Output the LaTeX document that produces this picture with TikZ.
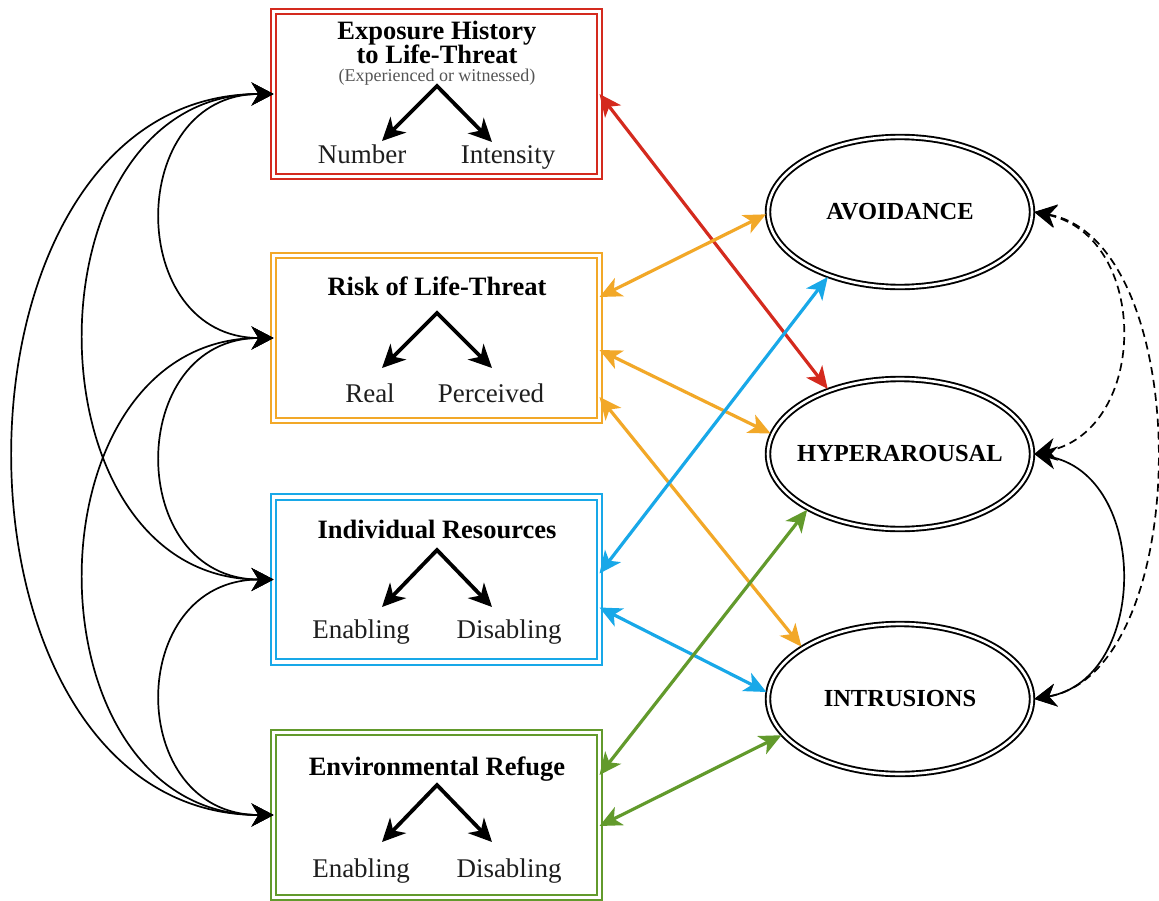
\documentclass[tikz,border=0pt]{standalone}
\usepackage{fontspec}
\setmainfont{Liberation Serif}
\usetikzlibrary{arrows.meta,shapes.geometric}
\definecolor{cred}{RGB}{212,42,30}
\definecolor{corange}{RGB}{242,168,40}
\definecolor{cblue}{RGB}{24,168,232}
\definecolor{cgreen}{RGB}{98,154,44}
\definecolor{subgray}{RGB}{85,85,85}
\definecolor{lblgray}{RGB}{30,30,30}
\begin{document}
\begin{tikzpicture}[x=1bp,y=-1bp,
  factor/.style={draw=#1, double=white, double distance=3.6bp, line width=1.8bp,
    minimum width=326bp, minimum height=165bp, outer sep=0pt, inner sep=0pt},
  latent/.style={ellipse, draw=black, double=white, double distance=2.6bp, line width=1.9bp,
    minimum width=264bp, minimum height=150bp, outer sep=2.2bp, inner sep=0pt,
    font=\fontsize{24.5bp}{28bp}\selectfont\bfseries},
  titletext/.style={anchor=base, inner sep=0pt, font=\fontsize{26.5bp}{30bp}\selectfont\bfseries},
  subtext/.style={anchor=base, inner sep=0pt, text=subgray, font=\fontsize{18bp}{20bp}\selectfont},
  lbl/.style={anchor=base, inner sep=0pt, text=lblgray, font=\fontsize{27bp}{30bp}\selectfont},
  varrow/.style={line width=3.8bp, miter limit=20,
    {Stealth[length=23bp,width=22bp,inset=7bp]}-{Stealth[length=23bp,width=22bp,inset=7bp]}},
  corr/.style={line width=1.7bp,
    {Stealth[length=22bp,width=23bp,inset=7bp]}-{Stealth[length=22bp,width=23bp,inset=7bp]}},
  dashcorr/.style={corr, dash pattern=on 8bp off 5bp},
  link/.style={line width=3.2bp, draw=#1,
    {Stealth[length=22bp,width=20bp,inset=6bp]}-{Stealth[length=22bp,width=20bp,inset=6bp]}}
]
\useasboundingbox (0,0) rectangle (1159,901);
\fill[white] (0,0) rectangle (1159,901);

% factor boxes
\node[factor=cred] (exp) at (436.5,94) {};
\node[factor=corange] (risk) at (436.5,338) {};
\node[factor=cblue] (ind) at (436.5,579.5) {};
\node[factor=cgreen] (env) at (436.5,815) {};

% texts of the boxes
\node[titletext] (expT1) at (437,39) {Exposure History};
\node[titletext] (expT2) at (437,63) {to Life-Threat};
\node[subtext] (expS) at (437,81) {(Experienced or witnessed)};
\node[lbl] (expN) at (362,163) {Number};
\node[lbl] (expI) at (508,163) {Intensity};

\node[titletext] (riskT) at (437,295) {Risk of Life-Threat};
\node[lbl] (riskR) at (370,402) {Real};
\node[lbl] (riskP) at (491,402) {Perceived};

\node[titletext] (indT) at (437,538) {Individual Resources};
\node[lbl] (indE) at (361,638) {Enabling};
\node[lbl] (indD) at (509,638) {Disabling};

\node[titletext] (envT) at (437,775) {Environmental Refuge};
\node[lbl] (envE) at (361,877) {Enabling};
\node[lbl] (envD) at (509,877) {Disabling};

% V arrows
\coordinate (expA) at (437,86);  \coordinate (expL) at (382,141); \coordinate (expR) at (492,142);
\coordinate (riskA) at (437,313); \coordinate (riskL) at (382,368); \coordinate (riskRt) at (492,368);
\coordinate (indA) at (437,550);  \coordinate (indL) at (382,607); \coordinate (indR) at (492,607);
\coordinate (envA) at (437,785);  \coordinate (envL) at (382,842); \coordinate (envR) at (492,842);
\draw[varrow] (expL) -- (expA) -- (expR);
\draw[varrow] (riskL) -- (riskA) -- (riskRt);
\draw[varrow] (indL) -- (indA) -- (indR);
\draw[varrow] (envL) -- (envA) -- (envR);

% latent ellipses
\node[latent] (avo) at (900,212) {\makebox[0pt]{AVOIDANCE}};
\node[latent] (hyp) at (900,454) {\makebox[0pt]{HYPERAROUSAL}};
\node[latent] (intr) at (900,699) {\makebox[0pt]{INTRUSIONS}};

% left correlations
\draw[corr] (exp.west) .. controls +(-149,0) and +(-149,0) .. (risk.west);
\draw[corr] (exp.west) .. controls +(-251,0) and +(-251,0) .. (ind.west);
\draw[corr] (exp.west) .. controls +(-345,0) and +(-345,0) .. (env.west);
\draw[corr] (risk.west) .. controls +(-149,0) and +(-149,0) .. (ind.west);
\draw[corr] (risk.west) .. controls +(-251,0) and +(-251,0) .. (env.west);
\draw[corr] (ind.west) .. controls +(-149,0) and +(-149,0) .. (env.west);

% right correlations
\draw[dashcorr] (avo.east) .. controls +(-12:118bp) and +(12:118bp) .. (hyp.east);
\draw[dashcorr] (avo.east) .. controls +(-10:164bp) and +(10:164bp) .. (intr.east);
\draw[corr] (hyp.east) .. controls +(-10:117bp) and +(10:117bp) .. (intr.east);

% coloured paths
\draw[link=cred] (exp.east) -- (hyp.138);
\draw[link=corange] ([yshift=41bp]risk.east) -- (avo.181);
\draw[link=corange] ([yshift=-12bp]risk.east) -- (hyp.171);
\draw[link=corange] ([yshift=-59bp]risk.east) -- (intr.152);
\draw[link=cblue] ([yshift=6bp]ind.east) -- (avo.222);
\draw[link=cblue] ([yshift=-28bp]ind.east) -- (intr.177);
\draw[link=cgreen] ([yshift=40bp]env.east) -- (hyp.211);
\draw[link=cgreen] ([yshift=-11bp]env.east) -- (intr.197);
\end{tikzpicture}
\end{document}
